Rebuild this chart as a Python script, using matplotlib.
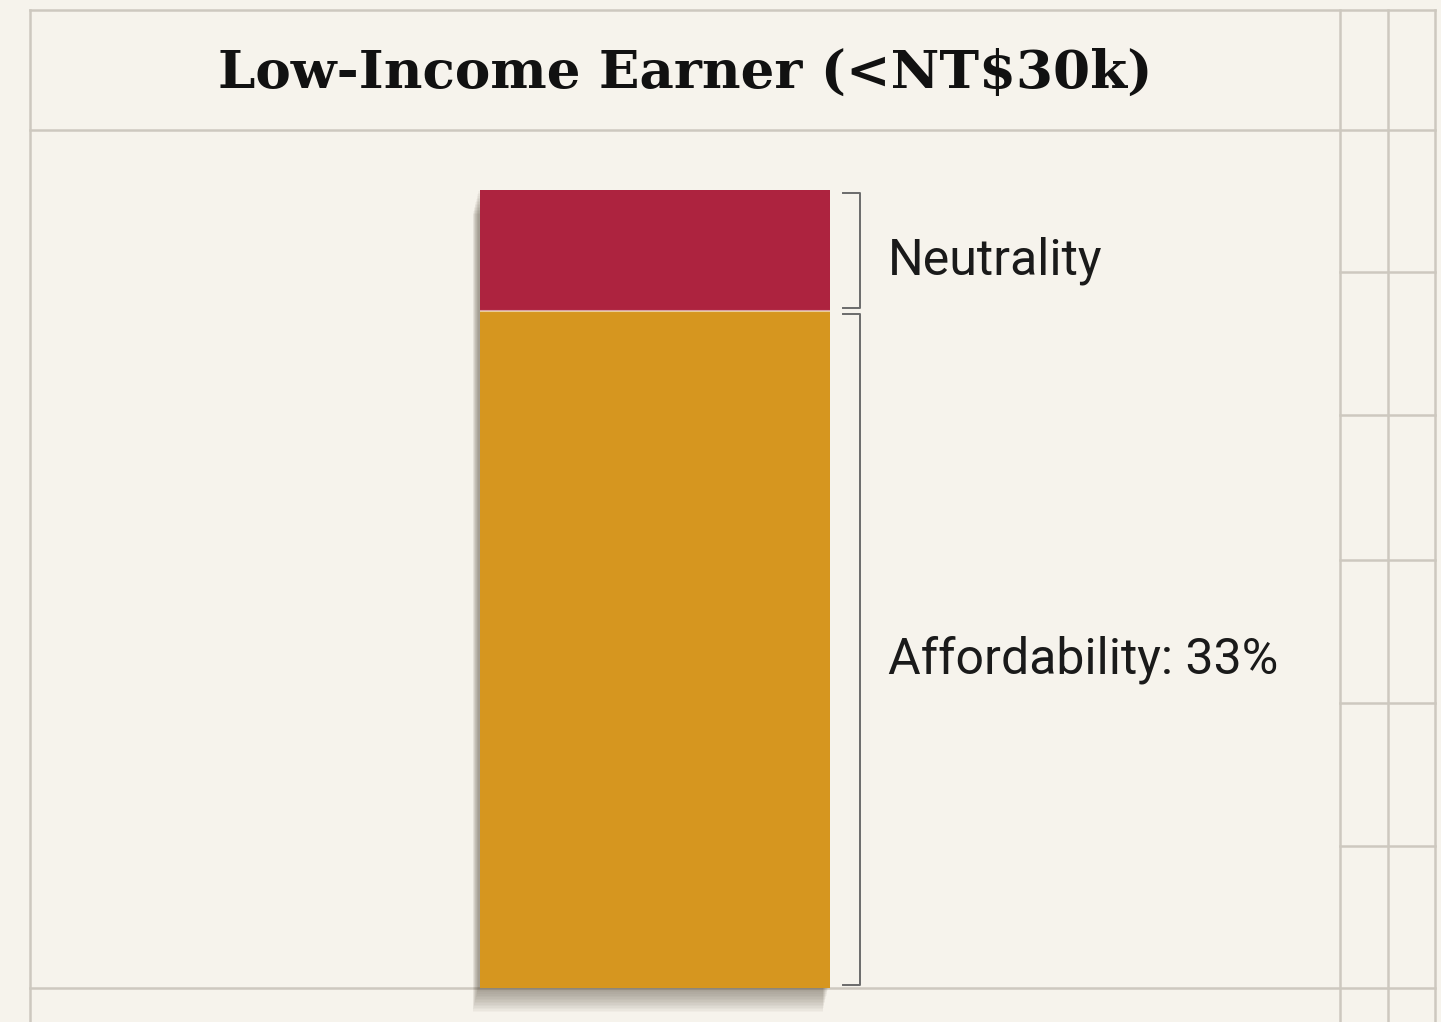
import matplotlib
matplotlib.use('Agg')
import matplotlib.pyplot as plt
import matplotlib.patheffects as pe
import matplotlib.transforms as mtransforms

# 数据
title = 'Low-Income Earner (<NT$30k)'
segments = ['Affordability', 'Neutrality']
heights = [84.8, 15.2]           # share of bar height
labels = ['Affordability: 33%', 'Neutrality']
colors = ['#d6961f', '#ad233f']

bg = '#f6f3ec'
line_c = '#cdc8bf'

W, H = 1441, 1022
fig = plt.figure(figsize=(W / 100, H / 100), dpi=100, facecolor=bg)

# background frame (pixel coordinates)
ax_bg = fig.add_axes([0, 0, 1, 1])
ax_bg.set_xlim(0, W)
ax_bg.set_ylim(H, 0)
ax_bg.axis('off')
ax_bg.set_facecolor(bg)
lw = 1.8
for y in [10, 130, 988]:
    ax_bg.plot([30, 1435], [y, y], color=line_c, lw=lw)
for x in [30, 1340, 1388, 1435]:
    ax_bg.plot([x, x], [10, H], color=line_c, lw=lw)
for y in [272, 415, 560, 703, 846]:
    ax_bg.plot([1340, 1435], [y, y], color=line_c, lw=lw)

ax_bg.text(685, 73, title, ha='center', va='center', fontsize=38.3,
           fontweight='bold', family='DejaVu Serif', color='#111111')

# bar axes
left, right, top, bottom = 480, 830, 190, 988
ax = fig.add_axes([left / W, 1 - bottom / H, (right - left) / W, (bottom - top) / H])
ax.axis('off')
ax.set_xlim(-0.5, 0.5)
total = sum(heights)
ax.set_ylim(0, total)

# soft drop shadow under the whole bar
shadow = [pe.SimplePatchShadow(offset=(-1.5 - k * 0.25, -1 - k * 1.1), shadow_rgbFace='#3a3020',
                               alpha=0.03)
          for k in range(16)]
ax.bar(0, total, width=1, color=bg, path_effects=shadow + [pe.Normal()], clip_on=False)

base = 0
trans = mtransforms.blended_transform_factory(ax.transAxes, ax.transData)
text_off = mtransforms.ScaledTranslation(0, -10 / 100, fig.dpi_scale_trans)
for h, c, lab in zip(heights, colors, labels):
    ax.bar(0, h, bottom=base, width=1, color=c, edgecolor='none')
    pad = 0.4
    y0, y1 = base + pad, base + h - pad
    ax.plot([1.037, 1.086, 1.086, 1.037], [y0, y0, y1, y1], transform=trans,
            color='#6b6b6b', lw=1.4, clip_on=False)
    ax.text(1.166, base + h / 2, lab, transform=trans + text_off, ha='left', va='center',
            fontsize=36, family='Roboto', color='#1a1a1a')
    base += h
# thin gap between the two segments
ax.axhline(heights[0], color=bg, lw=1.5, alpha=0.6)

fig.savefig('out.png', dpi=100, facecolor=bg)
